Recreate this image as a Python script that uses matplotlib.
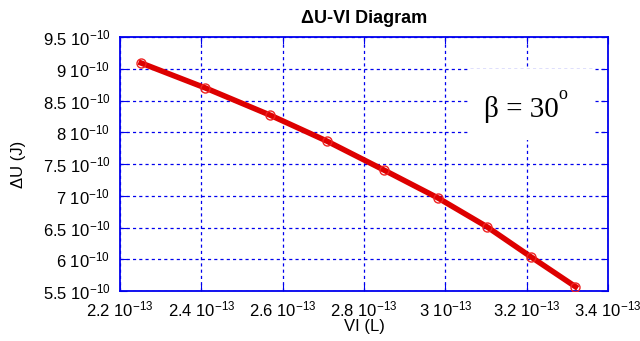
import matplotlib
matplotlib.use("Agg")
import matplotlib.pyplot as plt
from matplotlib.patches import Rectangle

# VI in units of 1e-13 L, dU in units of 1e-10 J
vi = [2.252, 2.409, 2.569, 2.709, 2.849, 2.982, 3.102, 3.210, 3.320]
du = [9.09, 8.70, 8.27, 7.86, 7.405, 6.965, 6.513, 6.04, 5.568]

xticks = [2.2, 2.4, 2.6, 2.8, 3.0, 3.2, 3.4]
yticks = [5.5, 6, 6.5, 7, 7.5, 8, 8.5, 9, 9.5]

plt.rcParams['font.family'] = ['Liberation Sans', 'DejaVu Sans']
plt.rcParams['mathtext.default'] = 'regular'
blue = '#0000ee'

fig = plt.figure(figsize=(6.4, 3.41), dpi=100)
ax = fig.add_axes([0.1875, 0.1466, 0.7625, 0.7449])

ax.plot(vi, du, color='#dd0000', lw=4.0, zorder=3)
ax.plot(vi, du, 'o', mfc='none', mec='#ee2222', ms=6.5, mew=1.0, zorder=4)

ax.set_xlim(2.2, 3.4)
ax.set_ylim(5.5, 9.5)
ax.set_xticks(xticks)
ax.set_yticks(yticks)
ax.set_xticklabels(['%g 10$^{-13}$' % t for t in xticks], fontsize=12)
ax.set_yticklabels(['%g 10$^{-10}$' % t for t in yticks], fontsize=12)
ax.tick_params(direction='in', length=5, color=blue, top=True, right=True)
ax.tick_params(axis='x', pad=6)
ax.tick_params(axis='y', pad=7)

ax.grid(True, color=blue, ls=(0, (2.5, 2.5)), lw=0.9)
for s in ax.spines.values():
    s.set_color(blue)
    s.set_linewidth(1.3)

ax.set_title('ΔU-VI Diagram', fontsize=13, fontweight='bold', pad=10)
ax.set_xlabel('VI (L)', fontsize=12, labelpad=0)
ax.set_ylabel('ΔU (J)', fontsize=12, labelpad=12)

# white box behind the annotation
ax.add_patch(Rectangle((0.713, 0.594), 0.256, 0.28, transform=ax.transAxes,
                       facecolor='white', edgecolor='none', zorder=2))
ax.text(0.822, 0.686, 'β = 30', transform=ax.transAxes,
        ha='center', va='baseline', fontsize=21, family='Liberation Serif', zorder=2)
ax.text(0.898, 0.755, 'o', transform=ax.transAxes,
        ha='left', va='baseline', fontsize=13, family='Liberation Serif', zorder=2)

fig.savefig('out.png', dpi=100)
